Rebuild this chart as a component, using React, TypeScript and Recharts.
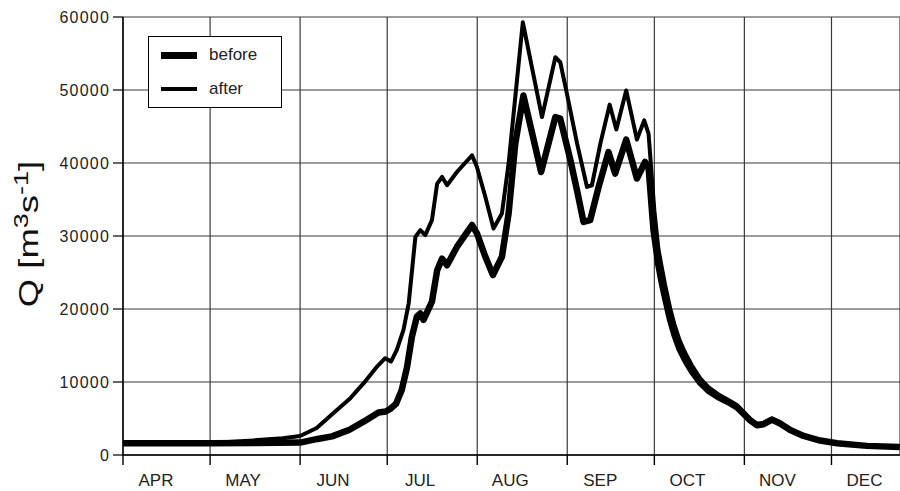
import { LineChart, Line, XAxis, YAxis, CartesianGrid, Legend } from 'recharts';

const monthStarts = [0, 30, 61, 91, 122, 153, 183, 214, 244];
const monthLabels = ['APR', 'MAY', 'JUN', 'JUL', 'AUG', 'SEP', 'OCT', 'NOV', 'DEC'];
const qTicks = [0, 10000, 20000, 30000, 40000, 50000, 60000];
const seriesOrder = ['before', 'after'];

// day index counted from 1 April
const beforeDays = [
    0, 30, 45, 61, 67, 72, 78, 83, 88, 90.5, 92, 94, 96, 97.8, 99.5, 101.2, 102.4, 103.5,
    106.4, 108.2, 109.9, 111.6, 115, 120.2, 121.9, 124.8, 127.4, 130.5, 132.8, 135.1, 137.9,
    144, 148.9, 150.6, 154.1, 156.5, 158.6, 160.9, 163.8, 167.2, 169.5, 173.3, 177, 179.8, 181,
    182.7, 184.4, 185.5, 186.7, 188.5, 189.9, 191.7, 193.6, 195.9, 198.8, 201.6, 205.1, 209.1,
    211.4, 213.7, 216, 218.3, 220.6, 223.5, 226.3, 229.8, 234.4, 240.1, 245.9, 256.2, 267.5,
];
const beforeQ = [
    1600, 1600, 1650, 1700, 2200, 2550, 3460, 4600, 5830, 5960, 6300, 7000, 8900, 12000, 16200,
    18950, 19400, 18500, 21000, 25300, 26900, 26000, 28500, 31500, 30350, 27150, 24650, 27150,
    33080, 42650, 49250, 38770, 46290, 46070, 40370, 36000, 31930, 32170, 36720, 41500, 38550,
    43200, 37870, 40140, 39450, 30800, 26000, 23700, 21500, 18400, 16500, 14500, 13000, 11450,
    9900, 8800, 7900, 7100, 6550, 5650, 4750, 4080, 4220, 4850, 4320, 3420, 2610, 1980, 1620,
    1250, 1080,
];

const afterDays = [
    0, 30, 45, 55, 61, 66.7, 72.5, 78.3, 82.9, 87.5, 90.3, 92.3, 94.3, 96.6, 98.4, 100.7, 102.4,
    104.1, 106.4, 108.2, 109.9, 111.6, 115, 120.2, 121.9, 124.8, 127.6, 130.5, 132.8, 137.7,
    144.3, 148.9, 150.6, 152.9, 156.4, 159.8, 161.5, 164.4, 167.6, 169.9, 173.3, 177, 179.5, 181,
    183, 184.4, 185.5, 186.7, 188.5, 189.9, 191.7, 193.6, 195.9, 198.8, 201.6, 205.1, 209.1,
    211.4, 213.7, 216, 218.3, 220.6, 223.5, 226.3, 229.8, 234.4, 240.1, 245.9, 256.2, 267.5,
];
const afterQ = [
    1600, 1650, 2000, 2300, 2600, 3690, 5740, 7790, 9840, 12110, 13260, 12800, 14400, 17130, 20780,
    29880, 30800, 30120, 32170, 37180, 38090, 36950, 38770, 41050, 39450, 35350, 31030, 33080,
    39920, 59280, 46290, 54490, 53800, 49480, 42650, 36720, 36950, 42650, 48000, 44600, 49940,
    43200, 45840, 44020, 33500, 28200, 25800, 23300, 20000, 17900, 15700, 14000, 12300, 10500,
    9300, 8300, 7400, 6850, 5950, 4950, 4250, 4400, 5000, 4450, 3520, 2680, 2030, 1670, 1300, 1110,
];

const beforeData = beforeDays.map((d, i) => ({ day: d, q: beforeQ[i] }));
const afterData = afterDays.map((d, i) => ({ day: d, q: afterQ[i] }));

const FONT = '"Liberation Sans", Arial, Helvetica, sans-serif';

const MonthTick = ({ x, y, payload }: { x?: number; y?: number; payload?: { value: number } }) => {
    const idx = monthStarts.indexOf(payload?.value ?? -1);
    if (idx < 0) return null;
    return (
        <text x={(x ?? 0) + 33} y={(y ?? 0) + 19} textAnchor="middle" fontFamily={FONT} fontSize={17} fill="#222">
            {monthLabels[idx]}
        </text>
    );
};

const QLabel = () => (
    <text
        transform="translate(38,234) rotate(-90) scale(1.35,1)"
        textAnchor="middle"
        fontFamily={FONT}
        fontSize={27}
        fill="#111"
    >
        Q [m<tspan fontSize={20} dy={-10}>3</tspan>
        <tspan dy={10}>s</tspan>
        <tspan fontSize={20} dy={-10}>-1</tspan>
        <tspan dy={10}>]</tspan>
    </text>
);

const LegendBox = ({ payload }: { payload?: { value: string }[] }) => {
    const widths: Record<string, number> = { before: 7, after: 4 };
    const items = [...(payload ?? [])].sort(
        (a, b) => seriesOrder.indexOf(a.value) - seriesOrder.indexOf(b.value)
    );
    return (
        <div
            style={{
                width: 134,
                height: 72,
                boxSizing: 'border-box',
                border: '1px solid #000',
                background: '#fff',
                fontFamily: FONT,
                fontSize: 17,
                color: '#222',
                paddingTop: 3,
            }}
        >
            {items.map((p) => (
                <div key={p.value} style={{ display: 'flex', alignItems: 'center', height: 30, marginBottom: 4 }}>
                    <div style={{ width: 36, height: widths[p.value] ?? 4, background: '#000', marginLeft: 12 }} />
                    <span style={{ marginLeft: 12 }}>{p.value}</span>
                </div>
            ))}
        </div>
    );
};

export default function App() {
    return (
        <div style={{ position: 'absolute', left: 0, top: 0, background: '#fff' }}>
            <LineChart width={900} height={491} margin={{ top: 17, right: 0, bottom: 0, left: 0 }}>
                <CartesianGrid stroke="#3a3a3a" strokeWidth={1.2} />
                <XAxis
                    type="number"
                    dataKey="day"
                    domain={[0, 267.6]}
                    ticks={monthStarts}
                    tick={<MonthTick />}
                    tickSize={10}
                    height={36}
                    axisLine={{ stroke: '#000', strokeWidth: 1.4 }}
                    tickLine={{ stroke: '#000', strokeWidth: 1.4 }}
                    allowDataOverflow
                />
                <YAxis
                    type="number"
                    domain={[0, 60000]}
                    ticks={qTicks}
                    width={123}
                    tickSize={10}
                    tickMargin={3}
                    tick={{ fontFamily: FONT, fontSize: 16, fill: '#222', letterSpacing: 1.2 }}
                    axisLine={{ stroke: '#000', strokeWidth: 1.4 }}
                    tickLine={{ stroke: '#000', strokeWidth: 1.2 }}
                    label={<QLabel />}
                />
                <Legend
                    layout="vertical"
                    align="center"
                    verticalAlign="middle"
                    content={<LegendBox />}
                    wrapperStyle={{ left: 148, top: 36, width: 134, height: 72 }}
                />
                <Line
                    data={beforeData}
                    dataKey="q"
                    name="before"
                    type="linear"
                    stroke="#000"
                    strokeWidth={6.5}
                    strokeLinejoin="round"
                    dot={false}
                    isAnimationActive={false}
                />
                <Line
                    data={afterData}
                    dataKey="q"
                    name="after"
                    type="linear"
                    stroke="#000"
                    strokeWidth={4}
                    strokeLinejoin="round"
                    dot={false}
                    isAnimationActive={false}
                />
            </LineChart>
        </div>
    );
}
